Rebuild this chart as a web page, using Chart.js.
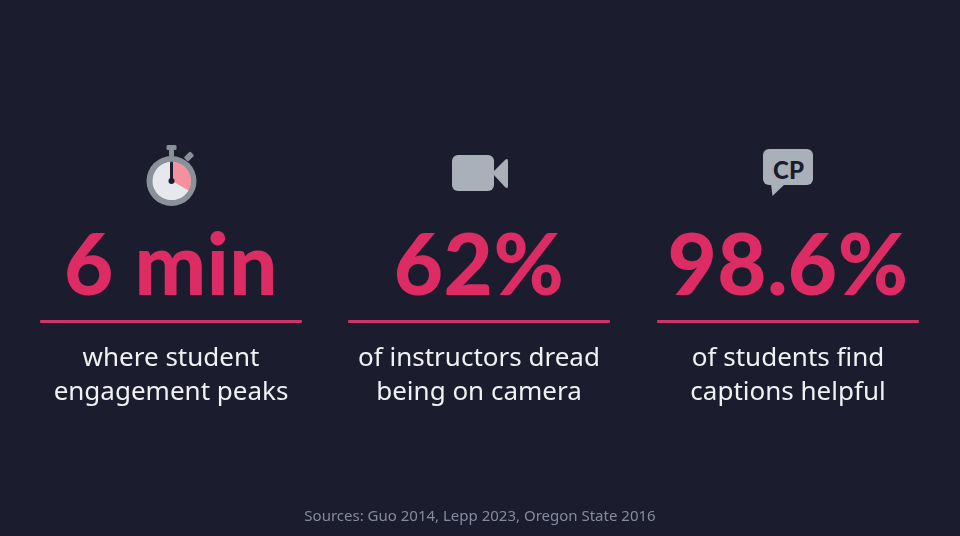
<!DOCTYPE html>
<html>
<head>
<meta charset="utf-8">
<script src="https://cdn.jsdelivr.net/npm/chart.js@4.4.1/dist/chart.umd.min.js"></script>
<style>
  html, body { margin: 0; padding: 0; }
  body { width: 960px; height: 536px; background: #1b1d2e; position: relative; overflow: hidden;
         font-family: "Noto Sans", Lato, sans-serif; }
  .col { position: absolute; width: 262px; text-align: center; }
  .big { position: absolute; left: -30px; width: 322px; top: 212px; font-family: Lato, sans-serif; font-weight: 900;
         font-size: 85px; line-height: 100px; color: #dc2c63; letter-spacing: 0.5px; }
  .rule { position: absolute; left: 0; width: 100%; top: 320px; height: 3px; background: #cf3468; border-radius: 1px; }
  .cap { position: absolute; left: -20px; width: 302px; top: 339px; font-size: 26px; line-height: 34px; color: #f1f1f4; }
  .src { position: absolute; left: 0; width: 960px; top: 505px; text-align: center; font-size: 15px; color: #878a9c; }
  #dial { position: absolute; }
  svg { position: absolute; left: 0; top: 0; }
</style>
</head>
<body>
<svg width="960" height="536" viewBox="0 0 960 536">
  <!-- stopwatch body -->
  <rect x="166.5" y="145" width="10" height="5" rx="1.5" fill="#8b9199"/>
  <rect x="169" y="148" width="5" height="10" fill="#8b9199"/>
  <rect x="186" y="152" width="6" height="9" rx="1.5" fill="#8b9199" transform="rotate(45 189 156.5)"/>
  <circle cx="171.5" cy="181" r="25" fill="#8b9199"/>
  <circle cx="171.5" cy="181" r="19" fill="#e6e8ee"/>
  <!-- camera -->
  <rect x="452" y="155" width="42" height="36" rx="6" fill="#a9b0b9"/>
  <path d="M492 173 L505 160 Q508 157.5 508 161 L508 186 Q508 189.5 505 187 Z" fill="#a9b0b9"/>
  <!-- CP bubble -->
  <rect x="763" y="149" width="50" height="36" rx="6" fill="#a9b0b9"/>
  <path d="M771 184 L772.5 196 L785 184 Z" fill="#a9b0b9"/>
  <text x="788.5" y="178.5" text-anchor="middle" font-family="Lato, sans-serif" font-weight="900" font-size="24" fill="#1b1d2e">CP</text>
</svg>
<canvas id="dial" width="38" height="38" style="left:152.5px;top:162px;width:38px;height:38px;"></canvas>
<svg width="960" height="536" viewBox="0 0 960 536" style="pointer-events:none">
  <line x1="171.5" y1="181" x2="171.5" y2="163" stroke="#1b1d2e" stroke-width="3" stroke-linecap="round"/>
  <circle cx="171.5" cy="181" r="3" fill="#1b1d2e"/>
</svg>

<div id="stats"></div>
<div class="src" id="src"></div>

<script>
// ---- data ----
const statLabels = ['6 min', '62%', '98.6%'];
const captionLines = [
  ['where student', 'engagement peaks'],
  ['of instructors dread', 'being on camera'],
  ['of students find', 'captions helpful']
];
const dialMinutes = [6, 12];           // elapsed vs. remaining on stopwatch dial
const dialColors = ['#f4919f', '#e6e8ee'];
const sourcesText = 'Sources: Guo 2014, Lepp 2023, Oregon State 2016';

// ---- layout ----
const colLefts = [40, 348, 657];
const stats = document.getElementById('stats');
statLabels.forEach((lab, i) => {
  const col = document.createElement('div');
  col.className = 'col';
  col.style.left = colLefts[i] + 'px';
  const big = document.createElement('div'); big.className = 'big'; big.textContent = lab;
  const rule = document.createElement('div'); rule.className = 'rule';
  const cap = document.createElement('div'); cap.className = 'cap';
  cap.innerHTML = captionLines[i].join('<br>');
  col.appendChild(big); col.appendChild(rule); col.appendChild(cap);
  stats.appendChild(col);
});
document.getElementById('src').textContent = sourcesText;

// ---- stopwatch dial drawn as a Chart.js pie ----
new Chart(document.getElementById('dial'), {
  type: 'pie',
  data: { labels: ['elapsed', 'remaining'],
          datasets: [{ data: dialMinutes, backgroundColor: dialColors, borderWidth: 0 }] },
  options: {
    responsive: false, animation: false, devicePixelRatio: 2,
    plugins: { legend: { display: false }, tooltip: { enabled: false } },
    layout: { padding: 0 }
  }
});
</script>
</body>
</html>
